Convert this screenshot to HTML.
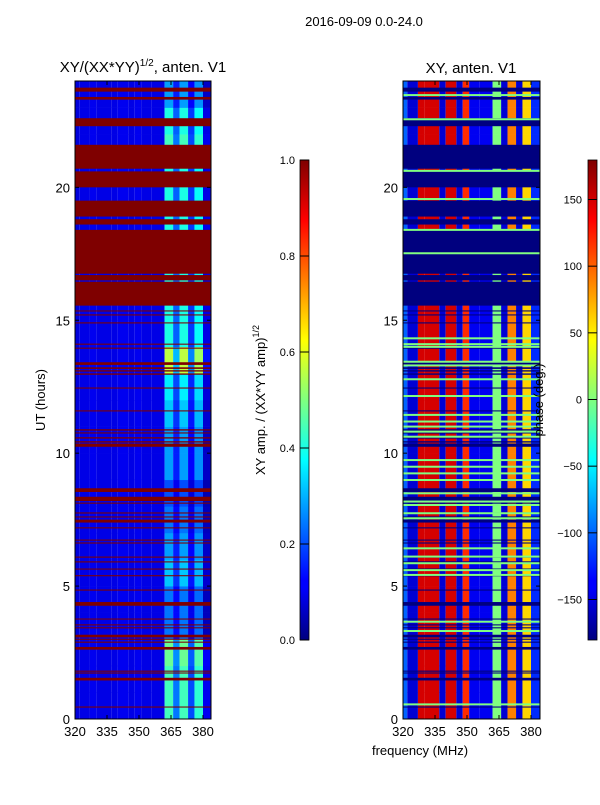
<!DOCTYPE html>
<html><head><meta charset="utf-8">
<style>
body{margin:0;background:#fff;}
svg text{font-family:"Liberation Sans",sans-serif;fill:#000;}
</style></head>
<body>
<svg id="fig" width="600" height="800" viewBox="0 0 600 800" xmlns="http://www.w3.org/2000/svg">
<defs>
<linearGradient id="jetV" x1="0" y1="1" x2="0" y2="0">
<stop offset="0" stop-color="#00007f"/><stop offset="0.11" stop-color="#0000ff"/><stop offset="0.125" stop-color="#0000ff"/>
<stop offset="0.375" stop-color="#00ffff"/><stop offset="0.625" stop-color="#ffff00"/><stop offset="0.875" stop-color="#ff0000"/><stop offset="1" stop-color="#7f0000"/>
</linearGradient>
</defs>
<text x="364" y="26" font-size="13" text-anchor="middle">2016-09-09 0.0-24.0</text>
<text x="143" y="72" font-size="15" text-anchor="middle">XY/(XX*YY)<tspan font-size="10" dy="-6">1/2</tspan><tspan dy="6">, anten. V1</tspan></text>
<text x="471" y="73" font-size="15" text-anchor="middle">XY, anten. V1</text>
<g id="left"></g>
<g id="right"></g>
<g id="axes"></g>
<text transform="translate(45,400) rotate(-90)" font-size="13" text-anchor="middle">UT (hours)</text>
<text x="420" y="755" font-size="13" text-anchor="middle">frequency (MHz)</text>
<rect x="300" y="160" width="9" height="480" fill="url(#jetV)" stroke="#000" stroke-width="0.8"/>
<rect x="588" y="160" width="9" height="480" fill="url(#jetV)" stroke="#000" stroke-width="0.8"/>
<text transform="translate(265,400) rotate(-90)" font-size="13" text-anchor="middle">XY amp. / (XX*YY amp)<tspan font-size="9" dy="-6">1/2</tspan></text>
<text transform="translate(543,400) rotate(-90)" font-size="13" text-anchor="middle">phase (deg.)</text>
<g id="cb"></g>
</svg>
<script>
// ---- data ----
const freqEdges = [320,322,327,330,337,340,345,348,351,356,362,366,369,373,376,380,384];
const ampProfile = [0.09,0.1,0.11,0.1,0.1,0.11,0.1,0.11,0.1,0.1,0.4,0.22,0.4,0.18,0.38,0.1];
const phaseProfile = [-100,-150,150,150,-150,150,-150,120,-140,-140,0,-150,90,-150,60,-120];
const hourGain = [1.1,1.1,1.2,0.6,0.6,0.8,0.7,0.6,0.5,0.7,0.7,0.8,0.9,1.4,1.0,1.0,1.0,1.0,1.0,1.0,1.0,1.1,1.0,0.7];
const flagStart = [23.6,23.3,22.3,20.7,20.0,18.9,18.6,16.75,16.5,15.55,15.33,15.18,14.88,14.08,13.93,13.32,13.17,13.07,12.95,12.43,11.57,10.85,10.74,10.55,10.4,10.24,8.54,8.2,8.1,7.73,7.58,7.39,7.17,6.71,6.6,6.07,5.89,5.62,5.37,4.83,4.26,3.74,3.52,3.41,3.07,2.98,2.87,2.61,1.78,1.71,1.45,0.43];
const flagEnd   = [23.75,23.4,22.6,21.6,20.6,19.5,18.8,18.4,16.7,16.45,15.37,15.22,14.92,14.12,13.97,13.42,13.23,13.12,13.0,12.47,11.61,10.9,10.78,10.6,10.45,10.36,8.68,8.36,8.14,7.77,7.62,7.5,7.21,6.75,6.64,6.11,5.93,5.66,5.41,4.87,4.4,3.78,3.56,3.45,3.17,3.02,2.91,2.71,1.82,1.75,1.55,0.47];
const greenHours = [23.47,22.56,20.62,19.56,18.4,17.52,14.32,14.1,14.0,13.44,13.3,12.78,12.15,11.44,11.19,11.0,10.81,10.62,9.74,9.49,9.24,8.99,8.49,8.18,8.05,7.74,7.55,6.42,6.11,5.86,5.6,5.42,3.66,3.31,0.55];
const yTicks = [0,5,10,15,20];
const xTicks = [320,335,350,365,380];
const ampTicks = [0.0,0.2,0.4,0.6,0.8,1.0];
const phaseTicks = [-150,-100,-50,0,50,100,150];

// ---- helpers ----
const NS="http://www.w3.org/2000/svg";
function jet(v){v=Math.max(0,Math.min(1,v));
 const f=x=>Math.max(0,Math.min(1,x));
 const r=f(Math.min(4*v-1.5,-4*v+4.5)),g=f(Math.min(4*v-0.5,-4*v+3.5)),b=f(Math.min(4*v+0.5,-4*v+2.5));
 return `rgb(${Math.round(r*255)},${Math.round(g*255)},${Math.round(b*255)})`;}
const yTop=81,yBot=719;
function yS(h){return yBot-(yBot-yTop)*h/24;}
function xL(f){return 75+(f-320)*32/15;}
function xR(f){return 403+(f-320)*32/15;}
function mk(tag,attrs,parent){const e=document.createElementNS(NS,tag);for(const k in attrs)e.setAttribute(k,attrs[k]);parent.appendChild(e);return e;}
const L=document.getElementById('left'),R=document.getElementById('right'),A=document.getElementById('axes'),CB=document.getElementById('cb');
const rEnd=540,lEnd=211;
function clipX(x,end){return Math.min(x,end);}

for(let h=0;h<24;h++){
 for(let j=0;j<ampProfile.length;j++){
  const gain=j>=10?hourGain[h]:1;
  const x0=xL(freqEdges[j]),x1=clipX(xL(freqEdges[j+1]),lEnd);
  const c=mk('rect',{x:x0,y:yS(h+1),width:Math.max(0,x1-x0),height:yS(h)-yS(h+1)+0.3,fill:jet(ampProfile[j]*gain)},L);
  
  
  const px0=xR(freqEdges[j]),px1=clipX(xR(freqEdges[j+1]),rEnd);
  const p=mk('rect',{x:px0,y:yS(h+1),width:Math.max(0,px1-px0),height:yS(h)-yS(h+1)+0.3,fill:jet((phaseProfile[j]+180)/360)},R);
  
  
 }
}
for(let i=0;i<flagStart.length;i++){
 const y0=yS(flagEnd[i]),hh=Math.max(1,yS(flagStart[i])-y0);
 const a=mk('rect',{x:75,y:y0,width:lEnd-75,height:hh,fill:'#7f0000'},L);
 
 
 const b=mk('rect',{x:403,y:y0,width:rEnd-403,height:hh,fill:'#00007f'},R);
 
 
}
for(let i=0;i<greenHours.length;i++){
 const g=mk('rect',{x:403,y:yS(greenHours[i])-1,width:rEnd-403,height:2,fill:jet(0.5)},R);
 
 
}
[[75,lEnd,xL,true],[403,rEnd,xR,false]].forEach(([x0,x1,xs,isLeft])=>{
 const fr=mk('rect',{x:x0,y:yTop,width:x1-x0,height:yBot-yTop,fill:'none',stroke:'#000','stroke-width':1},A);
 
 
 yTicks.forEach(t=>{const y=yS(t);
  mk('line',{x1:x0,x2:x0+4,y1:y,y2:y,stroke:'#000'},A);mk('line',{x1:x1,x2:x1-4,y1:y,y2:y,stroke:'#000'},A);
  const tx=mk('text',{x:x0-5,y:y+5,'font-size':13,'text-anchor':'end'},A);tx.textContent=t;
  
  });
 xTicks.forEach(t=>{const x=xs(t);
  mk('line',{x1:x,x2:x,y1:yBot,y2:yBot-4,stroke:'#000'},A);mk('line',{x1:x,x2:x,y1:yTop,y2:yTop+4,stroke:'#000'},A);
  const tx=mk('text',{x:x,y:yBot+17,'font-size':13,'text-anchor':'middle'},A);tx.textContent=t;
  
  });
});
ampTicks.forEach(t=>{const y=640-480*t;
 mk('line',{x1:300,x2:309,y1:y,y2:y,stroke:'#000'},CB);
 const tx=mk('text',{x:295,y:y+4,'font-size':11,'text-anchor':'end'},CB);tx.textContent=t.toFixed(1);
 
 });
phaseTicks.forEach(t=>{const y=399.5-t*480/360;
 mk('line',{x1:588,x2:597,y1:y,y2:y,stroke:'#000'},CB);
 const tx=mk('text',{x:582,y:y+4,'font-size':11,'text-anchor':'end'},CB);tx.textContent=t<0?'\u2212'+(-t):t;
 
 });
</script>
</body></html>
